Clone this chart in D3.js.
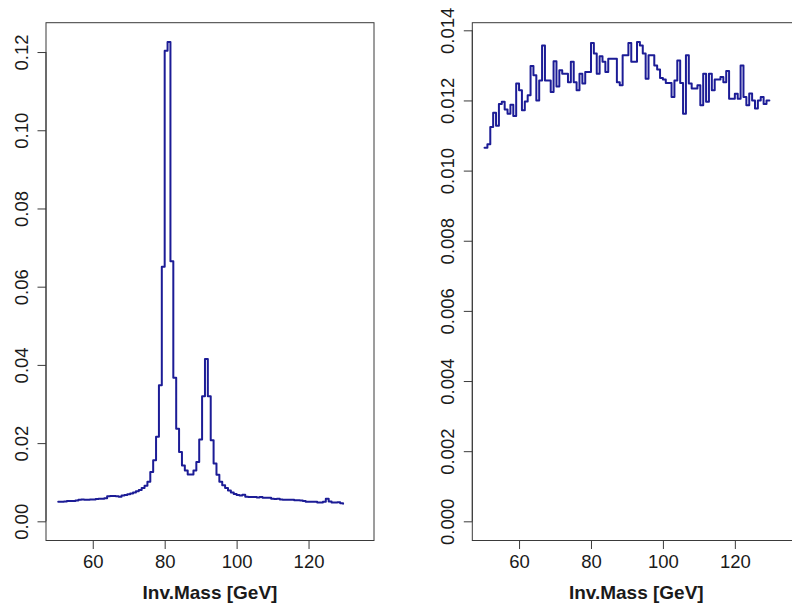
<!DOCTYPE html>
<html>
<head>
<meta charset="utf-8">
<script src="https://cdn.jsdelivr.net/npm/d3@7"></script>
<style>
  html, body { margin: 0; padding: 0; background: #ffffff; }
  svg { display: block; }
  text { font-family: "Liberation Sans", Arial, Helvetica, sans-serif; fill: #1a1a1a; }
</style>
</head>
<body>
<svg id="chart" width="792" height="610"></svg>
<script>
// ---- data ----
const binStart = 50.4;   // first bin mid
const binWidth = 0.8;

const leftValues = [
  0.0050, 0.0050, 0.0051, 0.0052, 0.0052, 0.0052, 0.0053, 0.0055, 0.0056, 0.0055,
  0.0055, 0.0056, 0.0056, 0.0057, 0.0058, 0.0058, 0.0059, 0.0064, 0.0065, 0.0065,
  0.0064, 0.0063, 0.0066, 0.0067, 0.0069, 0.0071, 0.0074, 0.0077, 0.0080, 0.0085,
  0.0091, 0.0101, 0.0126, 0.0156, 0.0216, 0.0348, 0.0651, 0.1203, 0.1226, 0.0665,
  0.0367, 0.0237, 0.0177, 0.0143, 0.0130, 0.0120, 0.0120, 0.0130, 0.0152, 0.0209,
  0.0320, 0.0415, 0.0320, 0.0207, 0.0148, 0.0119, 0.0101, 0.0092, 0.0085, 0.0079,
  0.0074, 0.0070, 0.0067, 0.0066, 0.0068, 0.0063, 0.0062, 0.0062, 0.0062, 0.0061,
  0.0062, 0.0060, 0.0060, 0.0060, 0.0058, 0.0057, 0.0058, 0.0056, 0.0055, 0.0055,
  0.0055, 0.0055, 0.0054, 0.0054, 0.0053, 0.0052, 0.0050, 0.0050, 0.0050, 0.0050,
  0.0048, 0.0048, 0.0050, 0.0058, 0.0051, 0.0048, 0.0048, 0.0049, 0.0046, 0.0045
];

const rightValues = [
  0.01065, 0.01075, 0.01124, 0.01165, 0.01128, 0.01190, 0.01196, 0.01174, 0.01162, 0.01188,
  0.01156, 0.01248, 0.01229, 0.01172, 0.01197, 0.01215, 0.01298, 0.01272, 0.01200, 0.01257,
  0.01357, 0.01257, 0.01257, 0.01224, 0.01312, 0.01240, 0.01286, 0.01276, 0.01276, 0.01252,
  0.01310, 0.01252, 0.01229, 0.01276, 0.01248, 0.01281, 0.01281, 0.01364, 0.01334, 0.01276,
  0.01326, 0.01310, 0.01281, 0.01319, 0.01319, 0.01319, 0.01252, 0.01243, 0.01329, 0.01329,
  0.01364, 0.01310, 0.01310, 0.01367, 0.01357, 0.01334, 0.01262, 0.01329, 0.01329, 0.01300,
  0.01288, 0.01264, 0.01260, 0.01250, 0.01250, 0.01210, 0.01257, 0.01314, 0.01250, 0.01162,
  0.01329, 0.01248, 0.01234, 0.01234, 0.01243, 0.01186, 0.01276, 0.01196, 0.01276, 0.01229,
  0.01260, 0.01260, 0.01267, 0.01252, 0.01284, 0.01205, 0.01205, 0.01219, 0.01205, 0.01300,
  0.01210, 0.01186, 0.01220, 0.01200, 0.01177, 0.01200, 0.01210, 0.01190, 0.01200, 0.01200
];

const xTicks = [60, 80, 100, 120];
const leftYTicks = [0, 0.02, 0.04, 0.06, 0.08, 0.10, 0.12];
const rightYTicks = [0, 0.002, 0.004, 0.006, 0.008, 0.010, 0.012, 0.014];
const xLabel = "Inv.Mass [GeV]";

// ---- drawing ----
const svg = d3.select("#chart");
svg.append("rect").attr("width", 792).attr("height", 610).attr("fill", "#fff");

const lineColor = "#1c1c96";
const boxColor = "#3a3a3a";
const fontSize = 18.5;

function panel(values, yTicks, fmt, left, right) {
  const top = 22.7, bottom = 540.5;
  const pts = values.map((v, i) => ({ x: binStart + i * binWidth, y: v }));
  const ymax = d3.max(values);
  const x = d3.scaleLinear().domain([47.0, 138.2]).range([left, right]);
  const y = d3.scaleLinear().domain([-0.04 * ymax, 1.04 * ymax]).range([bottom, top]);

  const g = svg.append("g");

  // histogram as a step line
  const line = d3.line().x(d => x(d.x)).y(d => y(d.y)).curve(d3.curveStepAfter);
  g.append("path").datum(pts)
    .attr("d", line)
    .attr("fill", "none")
    .attr("stroke", lineColor)
    .attr("stroke-width", 2)
    .attr("stroke-linejoin", "round")
    .attr("stroke-linecap", "round");

  // box
  g.append("rect")
    .attr("x", left).attr("y", top)
    .attr("width", right - left).attr("height", bottom - top)
    .attr("fill", "none").attr("stroke", boxColor).attr("stroke-width", 1);

  // x axis
  const xAxis = d3.axisBottom(x).tickValues(xTicks).tickSize(8.5).tickPadding(4).tickFormat(d3.format("d"));
  const gx = g.append("g").attr("transform", `translate(0,${bottom})`).call(xAxis);
  gx.select(".domain").attr("d", `M${x(xTicks[0])},0H${x(xTicks[xTicks.length - 1])}`).attr("stroke", boxColor);
  gx.selectAll(".tick line").attr("stroke", boxColor);
  gx.selectAll(".tick text").attr("font-size", fontSize).attr("fill", "#1a1a1a")
    .attr("dy", null).attr("y", 568.3 - bottom)
    .style("font-family", '"Liberation Sans", Arial, sans-serif');

  // y axis
  const yAxis = d3.axisLeft(y).tickValues(yTicks).tickSize(8.5).tickFormat(fmt);
  const gy = g.append("g").attr("transform", `translate(${left},0)`).call(yAxis);
  gy.select(".domain").attr("d", `M0,${y(yTicks[0])}V${y(yTicks[yTicks.length - 1])}`).attr("stroke", boxColor);
  gy.selectAll(".tick line").attr("stroke", boxColor);
  gy.selectAll(".tick text")
    .attr("font-size", fontSize).attr("fill", "#1a1a1a")
    .attr("x", null).attr("dy", null)
    .attr("text-anchor", "middle")
    .attr("transform", "translate(-18.5,0) rotate(-90)")
    .style("font-family", '"Liberation Sans", Arial, sans-serif');

  // x label
  g.append("text")
    .attr("x", (left + right) / 2).attr("y", 598.5)
    .attr("text-anchor", "middle")
    .attr("font-size", 19).attr("font-weight", "bold")
    .text(xLabel);
}

panel(leftValues, leftYTicks, d3.format(".2f"), 46, 374);
panel(rightValues, rightYTicks, d3.format(".3f"), 472.3, 800.3);
</script>
</body>
</html>
